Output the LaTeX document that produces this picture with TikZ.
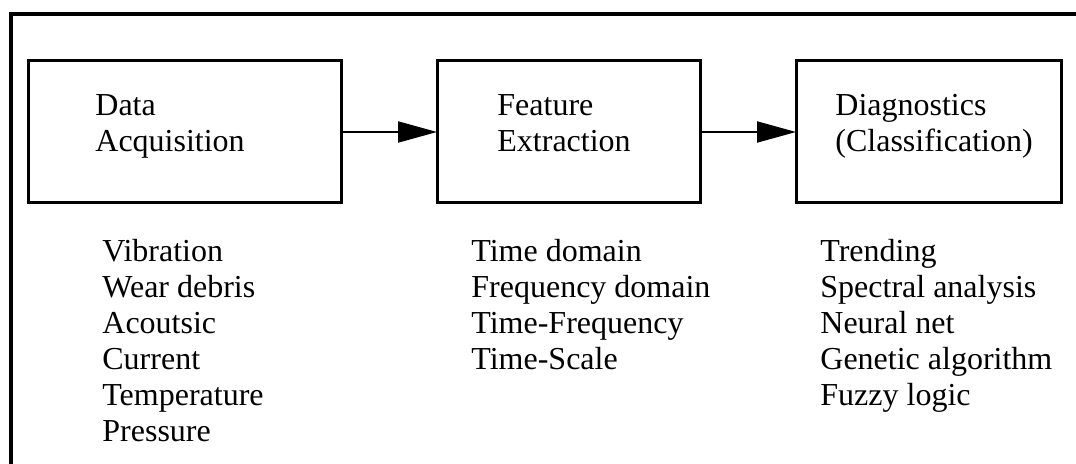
\documentclass[tikz,border=0pt]{standalone}
\usepackage{fontspec}
\setmainfont{Liberation Serif}
\usetikzlibrary{positioning, arrows.meta}

\begin{document}
\begin{tikzpicture}[x=0.5pt, y=-0.5pt,
    block/.style={draw, line width=1.5pt, minimum height=71pt, inner sep=0pt, outer sep=0pt},
    blocktext/.style={align=left, inner sep=0pt, font=\fontsize{16pt}{18pt}\selectfont},
    listtext/.style={align=left, inner sep=0pt, font=\fontsize{16pt}{18pt}\selectfont},
    flow/.style={line width=1pt, -{Triangle[length=19.5pt, width=10.5pt]}}]

    \useasboundingbox (0,0) rectangle (1076,464);

    % Outer frame (only the top and left sides are in view)
    \draw[line width=2pt] (11,464) |- (1076,14);

    % The three processing stages
    \node[block, minimum width=156.5pt] (acq) at (184.5,132) {};
    \node[block, minimum width=131.5pt, right=48pt of acq] (feat) {};
    \node[block, minimum width=132.5pt, right=48pt of feat] (diag) {};

    % Stage titles
    \node[blocktext, right=33.5pt of acq.west, yshift=3pt] (acqtitle) {Data\\Acquisition};
    \node[blocktext, right=30pt of feat.west, yshift=4.5pt] (feattitle) {Feature\\Extraction};
    \node[blocktext, right=19.5pt of diag.west, yshift=3pt] (diagtitle) {Diagnostics\\(Classification)};

    % Flow between stages
    \draw[flow] (acq) -- (feat);
    \draw[flow] (feat) -- (diag);

    % Lists under each stage
    \node[listtext, below right=18pt and 37pt of acq.south west] (acqlist)
        {Vibration\\Wear debris\\Acoutsic\\Current\\Temperature\\Pressure};
    \node[listtext, below right=18pt and 17pt of feat.south west] (featlist)
        {Time domain\\Frequency domain\\Time-Frequency\\Time-Scale};
    \node[listtext, below right=18pt and 12pt of diag.south west] (diaglist)
        {Trending\\Spectral analysis\\Neural net\\Genetic algorithm\\Fuzzy logic};

\end{tikzpicture}
\end{document}
